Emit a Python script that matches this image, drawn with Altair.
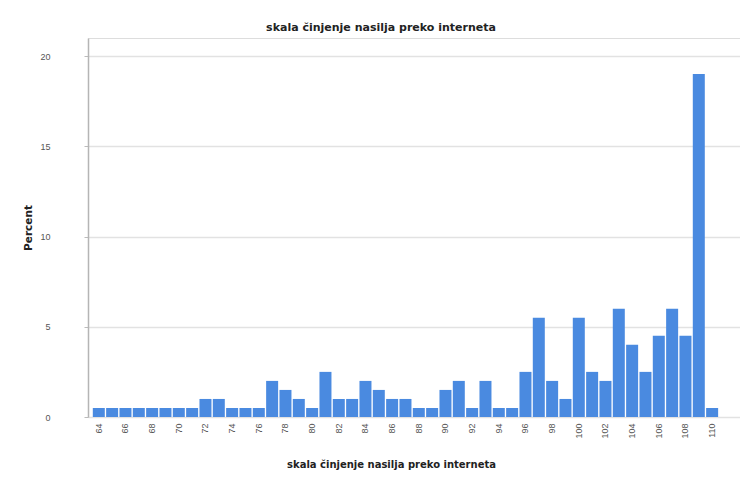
import altair as alt
import pandas as pd

# Category labels (scale values) and percentages
categories = ["64", "65", "66", "67", "68", "69", "70", "71", "72", "73",
              "74", "75", "76", "77", "78", "79", "80", "81", "82", "83",
              "84", "85", "86", "87", "88", "89", "90", "91", "92", "93",
              "94", "95", "96", "97", "98", "99", "100", "101", "102", "103",
              "104", "105", "106", "107", "108", "109", "110"]
percents = [0.5, 0.5, 0.5, 0.5, 0.5, 0.5, 0.5, 0.5, 1.0, 1.0,
            0.5, 0.5, 0.5, 2.0, 1.5, 1.0, 0.5, 2.5, 1.0, 1.0,
            2.0, 1.5, 1.0, 1.0, 0.5, 0.5, 1.5, 2.0, 0.5, 2.0,
            0.5, 0.5, 2.5, 5.5, 2.0, 1.0, 5.5, 2.5, 2.0, 6.0,
            4.0, 2.5, 4.5, 6.0, 4.5, 19.0, 0.5]
shown_labels = categories[::2]
y_ticks = [0, 5, 10, 15, 20]

df = pd.DataFrame({"cat": categories, "pct": percents})

FONT = "Liberation Sans"
TFONT = "DejaVu Sans"

chart = alt.Chart(df).mark_bar(color="#4a8ae0").encode(
    x=alt.X("cat:N", sort=categories,
            scale=alt.Scale(paddingInner=0.1, paddingOuter=1.0, align=0.18),
            axis=alt.Axis(values=shown_labels, labelAngle=270, labelFontSize=9,
                          labelColor="#555555", labelFont=FONT, ticks=False,
                          domain=False, labelPadding=6,
                          title="skala činjenje nasilja preko interneta",
                          titleFont=TFONT, titleFontSize=10, titleFontWeight="bold",
                          titleColor="#222222", titleX=303, titleY=42)),
    y=alt.Y("pct:Q", scale=alt.Scale(domain=[0, 21], nice=False),
            axis=alt.Axis(values=y_ticks, title="Percent", labelFont=FONT,
                          labelFontSize=9, labelColor="#555555", labelPadding=34,
                          tickSize=4, tickColor="#bbbbbb", domainColor="#b5b5b5",
                          domainWidth=1.5, gridColor="#e2e2e2", gridWidth=1.5,
                          titleFont=TFONT, titleFontSize=10.5, titleFontWeight="bold",
                          titleColor="#222222", titleX=-55)),
).properties(
    width=652, height=379,
    title=alt.TitleParams("skala činjenje nasilja preko interneta", font=TFONT,
                          fontSize=11, fontWeight="bold", color="#222222",
                          anchor="middle", dx=-33, offset=5),
    autosize=alt.AutoSizeParams(type="none"),
    padding={"left": 80, "top": 30, "right": 0, "bottom": 54},
).configure_view(stroke=None).configure(background="white")

chart.save("out.html", embed_options={"renderer": "svg", "actions": False})
